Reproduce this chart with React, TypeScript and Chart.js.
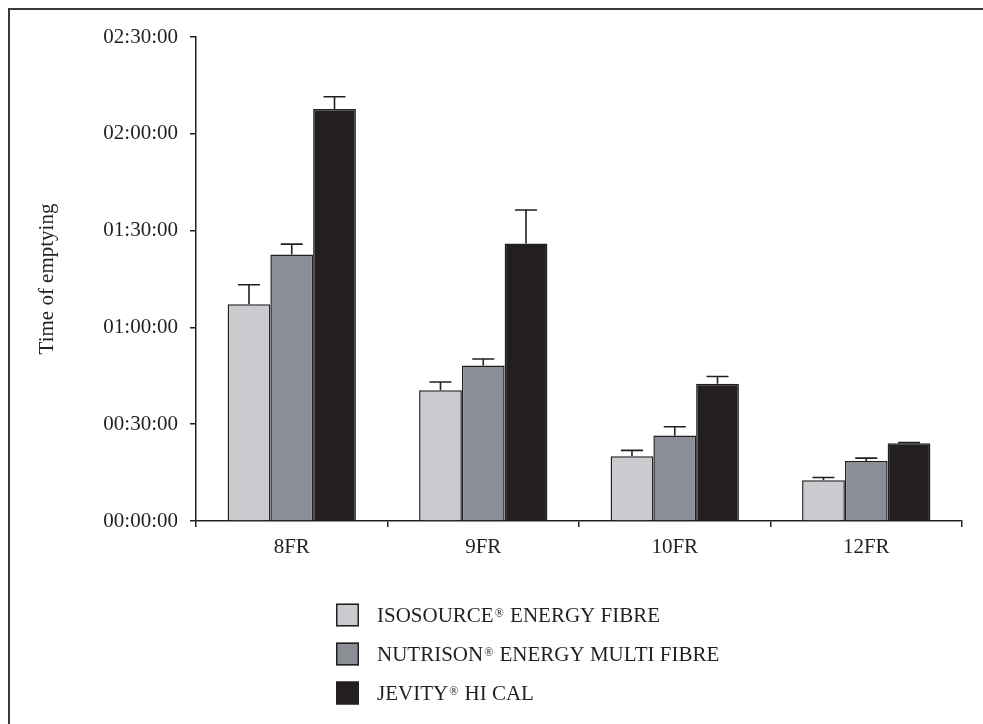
import React, { useEffect, useRef } from "react";
import { Chart, registerables } from "chart.js";

Chart.register(...registerables);

const categories = ["8FR", "9FR", "10FR", "12FR"];
const seriesNames = [
  "ISOSOURCE® ENERGY FIBRE",
  "NUTRISON® ENERGY MULTI FIBRE",
  "JEVITY® HI CAL",
];
// mean emptying time, minutes
const isosource = [67.2, 40.5, 20.1, 12.6];
const nutrison = [82.6, 48.2, 26.5, 18.6];
const jevity = [127.7, 86.0, 42.5, 24.1];
// upper error (SD), minutes
const isosourceErr = [6.0, 2.6, 1.8, 0.9];
const nutrisonErr = [3.2, 2.0, 2.7, 0.9];
const jevityErr = [3.8, 10.4, 2.3, 0.2];
const yTickLabels = ["00:00:00", "00:30:00", "01:00:00", "01:30:00", "02:00:00", "02:30:00"];
const yTitle = "Time of emptying";

const colors = ["#c9cbce", "#8b8f95", "#231f20"];
const INK = "#231f20";
const FONT = "'Liberation Serif', 'Times New Roman', serif";

export default function App() {
  const ref = useRef<HTMLCanvasElement | null>(null);

  useEffect(() => {
    if (!ref.current) return;
    const errs = [isosourceErr, nutrisonErr, jevityErr];

    const errorBars = {
      id: "errorBars",
      afterDatasetsDraw(chart: any) {
        const { ctx } = chart;
        const y = chart.scales.y;
        ctx.save();
        ctx.strokeStyle = INK;
        ctx.lineWidth = 1.6;
        chart.data.datasets.forEach((ds: any, i: number) => {
          const meta = chart.getDatasetMeta(i);
          meta.data.forEach((bar: any, j: number) => {
            const v = ds.data[j];
            const top = y.getPixelForValue(v + errs[i][j]);
            ctx.beginPath();
            ctx.moveTo(bar.x, bar.y);
            ctx.lineTo(bar.x, top);
            ctx.moveTo(bar.x - 11, top);
            ctx.lineTo(bar.x + 11, top);
            ctx.stroke();
          });
        });
        ctx.restore();
      },
    };

    const frameAndLegend = {
      id: "frameAndLegend",
      beforeDraw(chart: any) {
        const { ctx, width, height } = chart;
        ctx.save();
        ctx.fillStyle = "#fff";
        ctx.fillRect(0, 0, width, height);
        ctx.restore();
      },
      afterDraw(chart: any) {
        const { ctx, width, height } = chart;
        ctx.save();
        ctx.strokeStyle = "#3a3a3a";
        ctx.lineWidth = 2;
        ctx.beginPath();
        ctx.moveTo(9, height);
        ctx.lineTo(9, 9);
        ctx.lineTo(width, 9);
        ctx.stroke();

        const boxX = 336;
        const boxSize = 23;
        const textX = 377;
        const rowY = [615, 654, 693];
        chart.data.datasets.forEach((ds: any, i: number) => {
          const cy = rowY[i];
          ctx.fillStyle = ds.backgroundColor;
          ctx.fillRect(boxX, cy - boxSize / 2, boxSize, boxSize);
          ctx.strokeStyle = INK;
          ctx.lineWidth = 1.5;
          ctx.strokeRect(boxX + 0.75, cy - boxSize / 2 + 0.75, boxSize - 1.5, boxSize - 1.5);

          const parts = String(ds.label).split("®");
          ctx.fillStyle = INK;
          ctx.textBaseline = "alphabetic";
          ctx.textAlign = "left";
          const base = cy + 7;
          let x = textX;
          ctx.font = `21px ${FONT}`;
          ctx.fillText(parts[0], x, base);
          x += ctx.measureText(parts[0]).width;
          ctx.font = `12px ${FONT}`;
          ctx.fillText("®", x + 1, base - 5);
          x += ctx.measureText("®").width + 2;
          ctx.font = `21px ${FONT}`;
          ctx.fillText(parts[1] || "", x, base);
        });
        ctx.restore();
      },
    };

    const chart = new Chart(ref.current, {
      type: "bar",
      data: {
        labels: categories,
        datasets: [isosource, nutrison, jevity].map((d, i) => ({
          label: seriesNames[i],
          data: d,
          backgroundColor: colors[i],
          borderColor: INK,
          borderWidth: 1.5,
          barPercentage: 1.0,
          categoryPercentage: 0.67,
        })),
      },
      options: {
        responsive: false,
        animation: false,
        layout: { padding: { left: 0, top: 37, right: 21, bottom: 0 } },
        plugins: { legend: { display: false }, tooltip: { enabled: false } },
        scales: {
          x: {
            afterFit: (s: any) => {
              s.height = 203;
            },
            grid: {
              offset: true,
              drawOnChartArea: false,
              drawTicks: true,
              tickLength: 6,
              color: INK,
              lineWidth: 1.5,
            },
            border: { display: true, color: INK, width: 1.5 },
            ticks: {
              color: INK,
              font: { family: FONT, size: 21 },
              padding: 8,
            },
          },
          y: {
            min: 0,
            max: 150,
            afterFit: (s: any) => {
              s.width = 196;
            },
            grid: {
              drawOnChartArea: false,
              drawTicks: true,
              tickLength: 6,
              color: INK,
              lineWidth: 1.5,
            },
            border: { display: true, color: INK, width: 1.5 },
            ticks: {
              stepSize: 30,
              color: INK,
              font: { family: FONT, size: 21 },
              padding: 12,
              callback: (_v: any, idx: number) => yTickLabels[idx],
            },
            title: {
              display: true,
              text: yTitle,
              color: INK,
              font: { family: FONT, size: 21 },
              padding: { top: 35, bottom: 0 },
            },
          },
        },
      },
      plugins: [errorBars, frameAndLegend],
    });
    return () => chart.destroy();
  }, []);

  return (
    <div style={{ position: "fixed", left: 0, top: 0, width: 983, height: 724 }}>
      <canvas ref={ref} width={983} height={724} />
    </div>
  );
}
